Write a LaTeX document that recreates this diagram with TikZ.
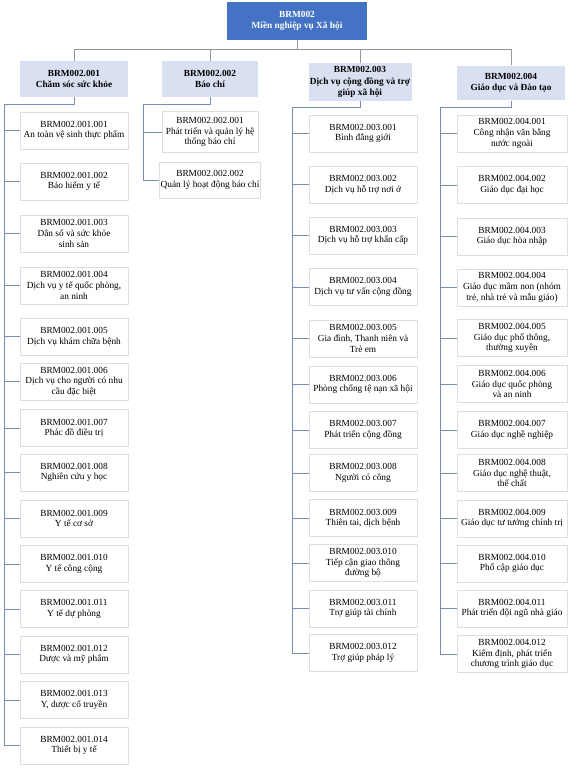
\documentclass[tikz,border=0pt]{standalone}
\usepackage{fontspec}
\setmainfont{Liberation Serif}
\definecolor{rootblue}{RGB}{68,114,196}
\definecolor{domainfill}{RGB}{217,224,242}
\definecolor{linkblue}{RGB}{118,140,178}
\definecolor{busgray}{RGB}{150,150,150}
\definecolor{leafedge}{RGB}{222,222,222}
\begin{document}
\begin{tikzpicture}[x=0.75pt, y=-0.75pt,
    rootbox/.style={fill=rootblue, text=white, inner sep=1pt,
                 minimum width=105pt, minimum height=28.5pt,
                 align=center, font=\fontsize{7}{8.5}\selectfont\bfseries},
    areabox/.style={fill=domainfill, inner sep=1pt,
                   minimum width=81pt, minimum height=27pt,
                   align=center, font=\fontsize{7}{8.5}\selectfont\bfseries},
    leaf/.style={draw=leafedge, fill=white, inner sep=1pt,
                 minimum width=81pt, minimum height=27.75pt,
                 align=center, font=\fontsize{7}{8}\selectfont},
    bus/.style={draw=busgray, line width=0.5pt},
    link/.style={draw=linkblue, line width=0.6pt},
]
\useasboundingbox (0,0) rectangle (576,773);

% Root and the four domains
\node[rootbox] (R) at (297,21) {BRM002\\Miền nghiệp vụ Xã hội};
\node[areabox] (D1) at (74,79) {BRM002.001\\Chăm sóc sức khỏe};
\node[areabox, minimum width=72pt] (D2) at (210,79) {BRM002.002\\Báo chí};
\node[areabox, minimum width=75pt, minimum height=28.5pt] (D3) at (360,82)
    {BRM002.003\\Dịch vụ cộng đồng và trợ\\giúp xã hội};
\node[areabox, minimum height=26pt] (D4) at (511,83) {BRM002.004\\Giáo dục và Đào tạo};

% Bus from root to domains
\coordinate (J) at (297,49);
\draw[bus] (R) -- (J);
\foreach \d in {D1,D2,D3,D4}
    \draw[bus] (J) -| (\d.north);

% Column 1: health care
\node[leaf] (A1) at (74,130.5) {BRM002.001.001\\An toàn vệ sinh thực phẩm};
\node[leaf] (A2) at (74,181.5) {BRM002.001.002\\Bảo hiểm y tế};
\node[leaf] (A3) at (74,233.5) {BRM002.001.003\\Dân số và sức khỏe\\sinh sản};
\node[leaf] (A4) at (74,285.5) {BRM002.001.004\\Dịch vụ y tế quốc phòng,\\an ninh};
\node[leaf] (A5) at (74,336.5) {BRM002.001.005\\Dịch vụ khám chữa bệnh};
\node[leaf] (A6) at (74,381.5) {BRM002.001.006\\Dịch vụ cho người có nhu\\cầu đặc biệt};
\node[leaf] (A7) at (74,428) {BRM002.001.007\\Phác đồ điều trị};
\node[leaf] (A8) at (74,472.5) {BRM002.001.008\\Nghiên cứu y học};
\node[leaf] (A9) at (74,518.5) {BRM002.001.009\\Y tế cơ sở};
\node[leaf] (A10) at (74,564) {BRM002.001.010\\Y tế công cộng};
\node[leaf] (A11) at (74,609) {BRM002.001.011\\Y tế dự phòng};
\node[leaf] (A12) at (74,654.5) {BRM002.001.012\\Dược và mỹ phẩm};
\node[leaf] (A13) at (74,700) {BRM002.001.013\\Y, dược cổ truyền};
\node[leaf] (A14) at (74,745.5) {BRM002.001.014\\Thiết bị y tế};

% Column 2: press
\node[leaf, minimum width=72pt, minimum height=30.75pt] (B1) at (210,132)
    {BRM002.002.001\\Phát triển và quản lý hệ\\thống báo chí};
\node[leaf, minimum width=72pt, minimum height=27pt] (B2) at (210,180)
    {BRM002.002.002\\Quản lý hoạt động báo chí};

% Column 3: community services
\node[leaf] (C1) at (363,133.5) {BRM002.003.001\\Bình đẳng giới};
\node[leaf] (C2) at (363,184.5) {BRM002.003.002\\Dịch vụ hỗ trợ nơi ở};
\node[leaf] (C3) at (363,235.5) {BRM002.003.003\\Dịch vụ hỗ trợ khẩn cấp};
\node[leaf] (C4) at (363,287) {BRM002.003.004\\Dịch vụ tư vấn cộng đồng};
\node[leaf] (C5) at (363,338.5) {BRM002.003.005\\Gia đình, Thanh niên và\\Trẻ em};
\node[leaf] (C6) at (363,384.5) {BRM002.003.006\\Phòng chống tệ nạn xã hội};
\node[leaf] (C7) at (363,430) {BRM002.003.007\\Phát triển cộng đồng};
\node[leaf] (C8) at (363,473) {BRM002.003.008\\Người có công};
\node[leaf] (C9) at (363,518) {BRM002.003.009\\Thiên tai, dịch bệnh};
\node[leaf] (C10) at (363,563) {BRM002.003.010\\Tiếp cận giao thông\\đường bộ};
\node[leaf] (C11) at (363,608.5) {BRM002.003.011\\Trợ giúp tài chính};
\node[leaf] (C12) at (363,653) {BRM002.003.012\\Trợ giúp pháp lý};

% Column 4: education
\node[leaf, minimum width=82.5pt] (E1) at (512,133.5) {BRM002.004.001\\Công nhận văn bằng\\nước ngoài};
\node[leaf, minimum width=82.5pt] (E2) at (512,185) {BRM002.004.002\\Giáo dục đại học};
\node[leaf, minimum width=82.5pt] (E3) at (512,236.5) {BRM002.004.003\\Giáo dục hòa nhập};
\node[leaf, minimum width=82.5pt] (E4) at (512,287.5) {BRM002.004.004\\Giáo dục mầm non (nhóm\\trẻ, nhà trẻ và mẫu giáo)};
\node[leaf, minimum width=82.5pt] (E5) at (512,338) {BRM002.004.005\\Giáo dục phổ thông,\\thường xuyên};
\node[leaf, minimum width=82.5pt] (E6) at (512,384) {BRM002.004.006\\Giáo dục quốc phòng\\và an ninh};
\node[leaf, minimum width=82.5pt] (E7) at (512,430) {BRM002.004.007\\Giáo dục nghề nghiệp};
\node[leaf, minimum width=82.5pt] (E8) at (512,473) {BRM002.004.008\\Giáo dục nghệ thuật,\\thể chất};
\node[leaf, minimum width=82.5pt] (E9) at (512,518.5) {BRM002.004.009\\Giáo dục tư tưởng chính trị};
\node[leaf, minimum width=82.5pt] (E10) at (512,563.5) {BRM002.004.010\\Phổ cập giáo dục};
\node[leaf, minimum width=82.5pt] (E11) at (512,608.5) {BRM002.004.011\\Phát triển đội ngũ nhà giáo};
\node[leaf, minimum width=82.5pt] (E12) at (512,654) {BRM002.004.012\\Kiểm định, phát triển\\chương trình giáo dục};

% Trunks down the left of each column
\coordinate (T1) at (4,104);
\coordinate (T2) at (143,104);
\coordinate (T3) at (292,107);
\coordinate (T4) at (440,107);
\draw[link] (D1.south) |- (T1) -- (T1 |- A14.west);
\draw[link] (D2.south) |- (T2) -- (T2 |- B2.west);
\draw[link] (D3.south) |- (T3) -- (T3 |- C12.west);
\draw[link] (D4.south) |- (T4) -- (T4 |- E12.west);

% Stubs to the items
\foreach \i in {1,...,14}
    \draw[link] (T1 |- A\i.west) -- (A\i.west);
\foreach \i in {1,2}
    \draw[link] (T2 |- B\i.west) -- (B\i.west);
\foreach \i in {1,...,12}
    \draw[link] (T3 |- C\i.west) -- (C\i.west);
\foreach \i in {1,...,12}
    \draw[link] (T4 |- E\i.west) -- (E\i.west);

\end{tikzpicture}
\end{document}
